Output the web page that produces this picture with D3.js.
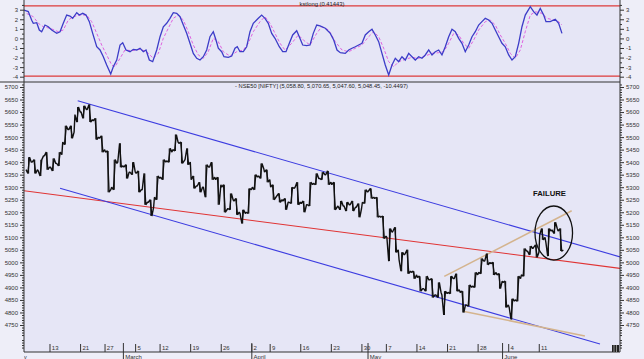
<!DOCTYPE html>
<html><head><meta charset="utf-8">
<script src="https://cdn.jsdelivr.net/npm/d3@7"></script>
<style>
html,body{margin:0;padding:0;background:#eeeef8;}
svg{display:block;}
text{font-family:"Liberation Sans",Arial,sans-serif;}
</style></head><body>
<svg id="chart" width="644" height="359"></svg>
<script>
// ---------------- DATA ----------------
const preDays = ["2012-02-01","2012-02-02","2012-02-03","2012-02-06"];
const tradingDays = [
 "2012-02-07","2012-02-08","2012-02-09","2012-02-10","2012-02-13","2012-02-14","2012-02-15","2012-02-16","2012-02-17",
 "2012-02-21","2012-02-22","2012-02-23","2012-02-24","2012-02-27","2012-02-28","2012-02-29",
 "2012-03-01","2012-03-02","2012-03-05","2012-03-06","2012-03-07","2012-03-09","2012-03-12","2012-03-13","2012-03-14",
 "2012-03-15","2012-03-16","2012-03-19","2012-03-20","2012-03-21","2012-03-22","2012-03-23","2012-03-26","2012-03-27",
 "2012-03-28","2012-03-29","2012-03-30",
 "2012-04-02","2012-04-03","2012-04-04","2012-04-09","2012-04-10","2012-04-11","2012-04-12","2012-04-13","2012-04-16",
 "2012-04-17","2012-04-18","2012-04-19","2012-04-20","2012-04-23","2012-04-24","2012-04-25","2012-04-26","2012-04-27","2012-04-30",
 "2012-05-02","2012-05-03","2012-05-04","2012-05-07","2012-05-08","2012-05-09","2012-05-10","2012-05-11","2012-05-14",
 "2012-05-15","2012-05-16","2012-05-17","2012-05-18","2012-05-21","2012-05-22","2012-05-23","2012-05-24","2012-05-25",
 "2012-05-28","2012-05-29","2012-05-30","2012-05-31",
 "2012-06-01","2012-06-04","2012-06-05","2012-06-06","2012-06-07","2012-06-08","2012-06-11","2012-06-12","2012-06-13","2012-06-14"
];
const openP  = [5370,5400,5365,5425,5380,5395,5480,5530,5590,5600,5610,5565,5495,5440,5300,5400,5380,5360,5355,5290,5240,5260,5340,5405,5450,5475,5410,5330,5305,5300,5380,5330,5300,5215,5245,5195,5200,5300,5345,5360,5300,5265,5245,5240,5300,5235,5230,5315,5335,5350,5310,5225,5225,5230,5220,5240,5285,5255,5180,5100,5125,5010,5035,4960,4940,4895,4930,4870,4870,4880,4935,4880,4830,4905,4960,5005,4995,4950,4920,4820,4850,4950,5045,5060,5110,5080,5130,5125];
const highP  = [5420,5410,5410,5440,5415,5440,5545,5545,5620,5625,5630,5575,5505,5445,5410,5475,5390,5400,5365,5355,5250,5345,5410,5455,5510,5480,5455,5345,5320,5390,5400,5340,5310,5275,5255,5210,5295,5350,5395,5370,5310,5275,5255,5300,5320,5245,5320,5355,5360,5365,5320,5245,5240,5245,5235,5290,5295,5260,5185,5135,5140,5040,5050,4965,4945,4945,4935,4920,4885,4945,4955,4885,4910,4960,5015,5035,5000,4955,4925,4855,4945,5055,5065,5070,5135,5135,5160,5135];
const lowP   = [5355,5355,5345,5370,5365,5385,5470,5495,5560,5575,5560,5490,5440,5280,5290,5380,5335,5350,5280,5230,5185,5250,5330,5400,5445,5395,5390,5295,5280,5260,5330,5230,5200,5210,5190,5155,5195,5290,5335,5320,5250,5240,5210,5235,5230,5200,5225,5310,5330,5310,5210,5210,5205,5205,5180,5235,5255,5180,5095,5005,5040,4965,4955,4935,4885,4885,4860,4860,4790,4875,4885,4800,4825,4900,4955,4990,4950,4895,4820,4772,4845,4945,5030,5020,5090,5025,5115,5045];
const closeP = [5400,5370,5425,5380,5395,5430,5530,5520,5600,5610,5570,5500,5450,5290,5395,5385,5360,5360,5290,5240,5220,5335,5400,5440,5480,5405,5400,5305,5300,5380,5340,5310,5210,5250,5200,5195,5290,5340,5375,5330,5260,5250,5240,5295,5240,5230,5310,5335,5350,5320,5220,5225,5230,5220,5215,5280,5260,5185,5105,5120,5050,5030,4965,4950,4895,4930,4870,4880,4875,4935,4890,4830,4900,4950,5005,5000,4960,4925,4830,4845,4935,5045,5055,5040,5100,5125,5135,5048.45];

// kst long (solid) and its signal (dashed): [trading-day position, value]
const kstLong = [[-0.25,2.97],[0.45,2.8],[1.01,1.9],[1.27,1.58],[1.83,1.64],[2.25,0.88],[2.64,0.7],[3.18,1.4],[3.72,1.22],[4.28,0.88],[5.10,0.53],[5.64,0.7],[6.17,1.58],[6.73,2.44],[7.27,2.34],[7.71,2.1],[8.37,2.69],[8.79,2.44],[9.35,2.62],[9.89,2.44],[10.43,1.75],[10.98,0.53],[11.64,-0.87],[12.18,-1.21],[12.72,-1.91],[13.27,-2.78],[13.93,-3.72],[14.35,-2.96],[14.91,-2.26],[15.45,-0.69],[15.89,-0.45],[16.43,-1.21],[17.08,-1.39],[17.62,-1.14],[18.18,-1.21],[18.72,-1.03],[19.26,-1.39],[19.70,-1.21],[20.24,-2.26],[20.79,-2.43],[21.45,-1.21],[21.99,0.18],[22.53,1.22],[23.08,1.58],[23.62,2.1],[24.16,2.69],[24.72,2.62],[25.26,2.27],[25.80,1.4],[26.35,0.53],[26.89,-0.51],[27.43,-1.56],[27.99,-2.08],[28.53,-2.26],[29.07,-1.91],[29.62,-1.21],[30.16,0.18],[30.70,0.7],[31.14,-0.17],[31.52,-1.03],[32.07,-1.39],[32.45,-1.91],[33.15,-1.98],[33.71,-1.84],[34.25,-1.03],[34.62,-0.87],[35.07,-1.39],[35.61,-1.39],[36.16,-0.87],[36.70,0.7],[37.24,1.58],[38.06,2.1],[38.61,2.44],[39.15,2.1],[39.69,1.58],[40.25,0.53],[40.79,0.01],[41.49,-0.87],[42.05,-1.39],[42.59,-1.39],[43.13,-0.51],[43.68,0.36],[44.34,0.8],[44.76,0.18],[45.32,-0.69],[45.97,-0.76],[46.51,-0.69],[47.05,0.53],[47.61,1.4],[48.15,1.3],[49.01,1.06],[49.83,0.53],[50.39,-0.17],[50.93,-1.21],[51.47,-1.49],[52.28,-1.56],[52.84,-1.21],[53.38,-1.03],[53.92,-0.87],[54.47,-0.69],[55.01,-0.51],[55.55,0.36],[56.11,0.7],[56.65,0.95],[57.19,0.36],[57.74,-0.34],[58.28,-1.56],[58.82,-2.78],[59.38,-3.82],[59.92,-2.78],[60.46,-2.08],[61.01,-2.43],[61.55,-1.91],[62.09,-2.26],[62.65,-1.56],[63.19,-1.91],[63.73,-2.26],[64.28,-1.91],[64.82,-2.08],[65.36,-1.73],[65.92,-1.21],[66.46,-1.73],[67.00,-1.39],[67.55,-1.21],[68.09,-1.73],[68.63,-0.87],[69.19,0.18],[69.73,0.95],[70.27,0.7],[70.82,0.01],[71.36,-0.51],[71.90,-1.39],[72.46,-0.69],[73.00,0.18],[73.54,0.7],[74.09,1.4],[74.63,1.75],[75.17,2.1],[75.73,1.92],[76.27,1.58],[76.81,0.88],[77.36,0.18],[77.90,-0.51],[78.44,-0.87],[79.00,-1.73],[79.54,-2.26],[80.08,-1.91],[80.63,-0.51],[81.17,1.22],[81.71,2.44],[82.53,3.31],[83.08,2.79],[83.62,2.44],[84.16,3.14],[84.72,2.44],[85.10,1.75],[85.80,1.75],[86.62,2.0],[87.17,1.58],[87.71,0.53]];
const kstSignal = [[0.19,2.6],[1.27,2.27],[2.09,1.58],[2.90,1.22],[4.00,1.06],[5.36,0.7],[6.17,0.88],[6.99,1.92],[7.81,2.27],[8.91,2.44],[10.00,2.44],[10.82,1.75],[11.64,0.53],[12.45,-0.69],[13.27,-1.73],[14.09,-2.78],[14.63,-2.96],[15.45,-2.08],[16.26,-1.21],[17.36,-1.28],[18.72,-1.14],[19.81,-1.39],[20.89,-2.08],[21.71,-1.56],[22.53,0.01],[23.34,1.06],[24.16,2.1],[24.98,2.44],[25.80,1.92],[26.61,0.7],[27.43,-0.69],[28.25,-1.73],[29.07,-2.08],[29.88,-1.39],[30.70,0.01],[31.52,-0.34],[32.34,-1.39],[33.43,-1.84],[34.53,-1.39],[35.61,-1.21],[36.42,-0.51],[37.24,0.7],[38.34,1.75],[39.15,2.27],[39.97,1.58],[40.79,0.53],[41.61,-0.51],[42.42,-1.21],[43.52,-0.51],[44.60,0.36],[45.42,-0.17],[46.51,-0.69],[47.61,0.53],[48.42,1.22],[49.57,0.88],[50.65,-0.34],[51.74,-1.21],[52.84,-1.39],[53.92,-1.03],[55.01,-0.69],[56.11,0.18],[56.93,0.7],[57.74,0.18],[58.56,-1.03],[59.38,-2.43],[60.20,-2.96],[61.01,-2.43],[62.09,-2.18],[63.19,-1.98],[64.28,-2.08],[65.36,-1.84],[66.46,-1.56],[67.55,-1.49],[68.37,-1.39],[69.19,-0.51],[70.01,0.53],[70.82,0.36],[71.64,-0.51],[72.46,-1.03],[73.28,-0.17],[74.09,0.88],[75.17,1.75],[75.99,1.92],[76.81,1.4],[77.63,0.36],[78.44,-0.51],[79.26,-1.56],[80.08,-2.08],[80.90,-1.21],[81.71,0.7],[82.53,2.44],[83.35,2.79],[84.44,2.62],[85.26,2.1],[86.36,1.92],[87.17,1.75],[87.71,1.4]];
const kstBands = [3.4, -3.95];
const kstTicks = [3,2,1,0,-1,-2,-3,-4];
const priceTicks = [5700,5650,5600,5550,5500,5450,5400,5350,5300,5250,5200,5150,5100,5050,5000,4950,4900,4850,4800,4750];

const weekTicks = [["2012-02-13","13"],["2012-02-21","21"],["2012-02-27","27"],["2012-03-05","5"],["2012-03-12","12"],["2012-03-19","19"],["2012-03-26","26"],["2012-04-02","2"],["2012-04-09","9"],["2012-04-16","16"],["2012-04-23","23"],["2012-04-30","30"],["2012-05-07","7"],["2012-05-14","14"],["2012-05-21","21"],["2012-05-28","28"],["2012-06-04","4"],["2012-06-11","11"]];
const monthTicks = [["2012-02-01","February"],["2012-03-01","March"],["2012-04-02","April"],["2012-05-02","May"],["2012-06-01","June"]];

// trend lines: [trading-day position, price]
const upperChannel = [[8.53,5645],[97.2,5022]];
const lowerChannel = [[5.64,5296],[93.93,4674]];
const midLine      = [[-0.25,5286],[97.2,4976]];
const tanUpper     = [[68.47,4944],[89.3,5206]];
const tanLower     = [[71.53,4805],[91.46,4706]];
const failureZone  = {center:[86.37,5117], halfDays:3.07, halfPts:108};
const failureLabel = {pos:[85.67,5265], text:"FAILURE"};

const kstTitle = "kstlong (0.41443)";
const priceTitle = "- NSE50 [NIFTY] (5,058.80, 5,070.65, 5,047.60, 5,048.45, -10.4497)";

// ---------------- LAYOUT ----------------
const W = 644, H = 359;
const L = 24, R = 620, topB = 82, botB = 352;
const svg = d3.select("#chart");
const allDays = preDays.concat(tradingDays);
const off = preDays.length;
const x = d3.scaleLinear().domain([3.749, 101.2]).range([L, R]);
const xPos = k => x(k + off);
const xDate = s => x(allDays.indexOf(s));
const kY = d3.scaleLinear().domain([-4, 3]).range([76.7, 9.7]);
const pY = d3.scaleLinear().domain([4750, 5700]).range([325, 87]);

const defs = svg.append("defs");
defs.append("clipPath").attr("id","cTop").append("rect").attr("x",L).attr("y",0).attr("width",R-L).attr("height",topB);
defs.append("clipPath").attr("id","cMain").append("rect").attr("x",L).attr("y",topB).attr("width",R-L).attr("height",botB-topB);
defs.append("clipPath").attr("id","cAxis").append("rect").attr("x",L).attr("y",botB).attr("width",R-L).attr("height",H-botB);

svg.append("rect").attr("width",W).attr("height",H).attr("fill","#eeeef8");
svg.append("rect").attr("x",L).attr("y",0).attr("width",R-L).attr("height",botB).attr("fill","#e6e6f6");

// ---- top panel ----
const gt = svg.append("g").attr("clip-path","url(#cTop)");
gt.selectAll("line.band").data(kstBands).join("line")
  .attr("x1",L).attr("x2",R).attr("y1",d=>kY(d)).attr("y2",d=>kY(d))
  .attr("stroke","#dd3a3a").attr("stroke-width",1.2);
const kLine = d3.line().x(d=>xPos(d[0])).y(d=>kY(d[1]));
gt.append("path").attr("d",kLine(kstSignal)).attr("fill","none")
  .attr("stroke","#e062e0").attr("stroke-width",1).attr("stroke-dasharray","3,2");
gt.append("path").attr("d",kLine(kstLong)).attr("fill","none")
  .attr("stroke","#3c3cc8").attr("stroke-width",1.3);
svg.append("text").attr("x",322).attr("y",6.3).attr("text-anchor","middle")
  .attr("font-size",6).attr("fill","#222").attr("textLength",45).attr("lengthAdjust","spacingAndGlyphs").text(kstTitle);

// ---- main panel ----
const gm = svg.append("g").attr("clip-path","url(#cMain)");
const pLine = d3.line().x(d=>xPos(d[0])).y(d=>pY(d[1]));
[[midLine,"#e03434",1.1],[upperChannel,"#3c3ce0",1.1],[lowerChannel,"#3c3ce0",1.1],[tanUpper,"#d4b48e",1.5],[tanLower,"#d4b48e",1.5]]
 .forEach(([pts,c,w]) => gm.append("path").attr("d",pLine(pts)).attr("fill","none").attr("stroke",c).attr("stroke-width",w));

// price: each day's open -> extremes -> close as a session path, plus its high-low bar
const pathPts = [];
tradingDays.forEach((d,i) => {
  const up = closeP[i] >= openP[i];
  const first = up ? lowP[i] : highP[i], second = up ? highP[i] : lowP[i];
  pathPts.push([i+0.08, openP[i]], [i+0.38, first], [i+0.66, second], [i+0.94, closeP[i]]);
});
gm.append("path").attr("d",pLine(pathPts)).attr("fill","none").attr("stroke","#111").attr("stroke-width",1.4).attr("stroke-linejoin","bevel");
const bars = gm.append("g").attr("stroke","#111").attr("stroke-width",1.1);
tradingDays.forEach((d,i) => {
  const cx = xPos(i + 0.5);
  bars.append("line").attr("x1",cx).attr("x2",cx).attr("y1",pY(highP[i])).attr("y2",pY(lowP[i]));
});

const fc = failureZone.center;
gm.append("ellipse").attr("cx",xPos(fc[0])).attr("cy",pY(fc[1]))
  .attr("rx",xPos(fc[0]+failureZone.halfDays)-xPos(fc[0]))
  .attr("ry",pY(fc[1]-failureZone.halfPts)-pY(fc[1]))
  .attr("fill","none").attr("stroke","#111").attr("stroke-width",1.3);
gm.append("text").attr("x",xPos(failureLabel.pos[0])).attr("y",pY(failureLabel.pos[1]))
  .attr("text-anchor","middle").attr("font-size",8).attr("font-weight","bold").attr("fill","#111")
  .attr("textLength",33).attr("lengthAdjust","spacingAndGlyphs").text(failureLabel.text);

svg.append("text").attr("x",321.5).attr("y",88.3).attr("text-anchor","middle")
  .attr("font-size",6).attr("fill","#222").attr("textLength",173).attr("lengthAdjust","spacingAndGlyphs").text(priceTitle);

// ---- frame lines ----
const frame = svg.append("g").attr("stroke","#333").attr("stroke-width",1);
frame.append("line").attr("x1",L).attr("x2",L).attr("y1",0).attr("y2",botB);
frame.append("line").attr("x1",R).attr("x2",R).attr("y1",0).attr("y2",botB);
frame.append("line").attr("x1",0).attr("x2",R).attr("y1",topB).attr("y2",topB);
frame.append("line").attr("x1",L).attr("x2",R).attr("y1",botB).attr("y2",botB);

// ---- y axes ----
function styleAxis(g){
  g.select(".domain").remove();
  g.selectAll(".tick line").attr("stroke","#333");
  g.selectAll("text").attr("font-size",6).attr("fill","#333").attr("font-family","Liberation Sans, Arial, sans-serif");
}
const kMinor = d3.range(-4.5, 4.01, 0.5).filter(v => !Number.isInteger(v));
const pMinor = d3.range(4650, 5721, 10).filter(v => v % 50 !== 0);
[[d3.axisLeft, L],[d3.axisRight, R]].forEach(([ax, pos]) => {
  svg.append("g").attr("transform",`translate(${pos},0)`)
    .call(ax(kY).tickValues(kstTicks).tickSize(4).tickPadding(2).tickFormat(d=>String(d))).call(styleAxis);
  svg.append("g").attr("transform",`translate(${pos},0)`)
    .call(ax(kY).tickValues(kMinor.filter(v=>kY(v)>1 && kY(v)<topB-1)).tickSize(2).tickFormat("")).call(styleAxis);
  svg.append("g").attr("transform",`translate(${pos},0)`)
    .call(ax(pY).tickValues(priceTicks).tickSize(4).tickPadding(2).tickFormat(d=>String(d))).call(styleAxis);
  svg.append("g").attr("transform",`translate(${pos},0)`)
    .call(ax(pY).tickValues(pMinor.filter(v=>pY(v)>topB+1 && pY(v)<botB-1)).tickSize(2).tickFormat("")).call(styleAxis);
});

// ---- x axis ----
const gx = svg.append("g");
weekTicks.forEach(([d,lab]) => {
  const xx = xDate(d);
  gx.append("line").attr("x1",xx).attr("x2",xx).attr("y1",344).attr("y2",botB).attr("stroke","#333");
  gx.append("text").attr("x",xx+1.8).attr("y",350).attr("font-size",6).attr("fill","#333").text(lab);
});
const gmo = svg.append("g").attr("clip-path","url(#cAxis)");
monthTicks.forEach(([d,lab]) => {
  const xx = xDate(d);
  if (xx >= L) gx.append("line").attr("x1",xx).attr("x2",xx).attr("y1",343).attr("y2",H).attr("stroke","#333");
  gmo.append("text").attr("x",xx+1.8).attr("y",358.5).attr("font-size",6).attr("fill","#333").text(lab);
});

// scroll grip icon
const grip = svg.append("g");
grip.append("rect").attr("x",612).attr("y",345).attr("width",7).attr("height",7).attr("fill","#222");
[614,616.5].forEach(gx2 => grip.append("line").attr("x1",gx2).attr("x2",gx2).attr("y1",345).attr("y2",352).attr("stroke","#aaa").attr("stroke-width",0.8));
</script>
</body></html>
